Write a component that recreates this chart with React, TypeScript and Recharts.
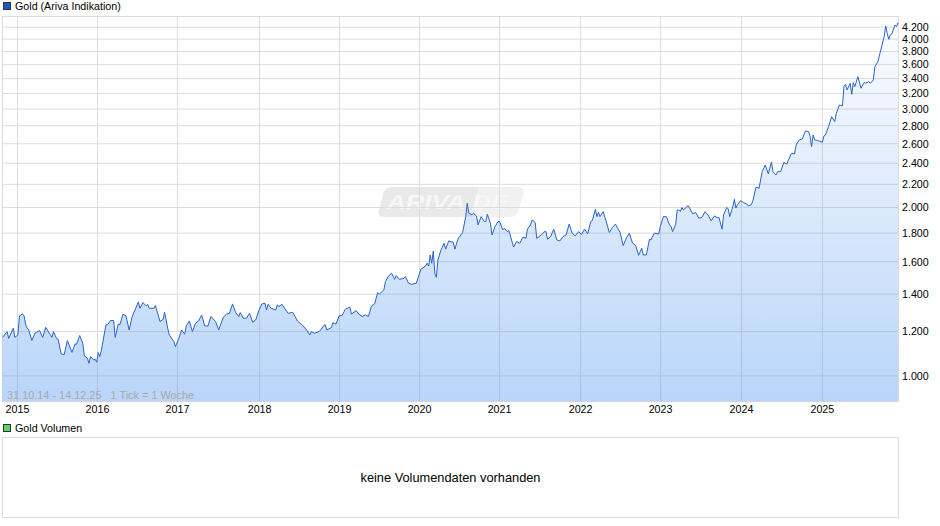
import React from 'react'
import { ComposedChart, Area, XAxis, YAxis, CartesianGrid } from 'recharts'

// week number counted from 31.10.14, closes
const weeks2014to2018 = [0, 3, 4, 7, 8, 10, 11, 13, 14, 15, 16, 17, 19, 21, 24, 26, 28, 31, 32, 33, 35, 36, 38, 40, 42, 45, 47, 48, 50, 52, 53, 55, 56, 57, 59, 60, 61, 62, 63, 64, 67, 68, 70, 72, 73, 75, 76, 78, 80, 82, 84, 88, 89, 91, 93, 94, 95, 98, 99, 100, 102, 104, 105, 107, 108, 111, 112, 114, 116, 118, 119, 121, 123, 125, 127, 129, 131, 133, 135, 138, 140, 143, 145, 147, 149, 151, 153, 154, 156, 158, 160, 162, 164, 166, 168, 170, 171, 172, 174, 177, 178, 179, 181, 183, 185, 188, 191, 194, 197, 199, 200, 202, 205]
const prices2014to2018 = [1172, 1200, 1167, 1217, 1172, 1184, 1280, 1291, 1280, 1234, 1217, 1208, 1157, 1192, 1205, 1172, 1221, 1184, 1172, 1200, 1167, 1163, 1095, 1092, 1157, 1102, 1141, 1139, 1181, 1144, 1086, 1075, 1053, 1083, 1068, 1071, 1058, 1101, 1083, 1110, 1234, 1234, 1256, 1256, 1172, 1239, 1234, 1289, 1280, 1208, 1277, 1356, 1321, 1352, 1334, 1343, 1321, 1321, 1336, 1308, 1251, 1262, 1299, 1217, 1184, 1152, 1128, 1163, 1208, 1187, 1228, 1254, 1200, 1242, 1254, 1285, 1228, 1228, 1277, 1251, 1208, 1273, 1289, 1294, 1345, 1298, 1277, 1298, 1268, 1268, 1294, 1247, 1259, 1308, 1345, 1348, 1312, 1343, 1321, 1312, 1340, 1330, 1343, 1317, 1294, 1299, 1254, 1234, 1208, 1184, 1200, 1192, 1200]

const weeks2019to2022 = [206, 208, 209, 210, 213, 214, 216, 218, 220, 222, 225, 226, 229, 231, 233, 235, 237, 239, 241, 243, 244, 247, 248, 250, 252, 254, 255, 257, 260, 261, 263, 265, 268, 269, 271, 274, 275, 276, 277, 278, 279, 280, 281, 282, 284, 286, 287, 289, 292, 293, 295, 298, 300, 301, 302, 304, 305, 307, 308, 310, 312, 313, 314, 316, 317, 319, 321, 322, 324, 325, 327, 328, 330, 331, 333, 335, 337, 339, 340, 342, 343, 345, 346, 349, 351, 352, 353, 355, 357, 359, 361, 363, 365, 367, 369, 371, 373, 375, 377, 379, 381, 382, 384, 385, 386, 387, 389, 391, 393, 395, 397, 399, 400, 402, 404, 406]
const prices2019to2022 = [1208, 1230, 1235, 1208, 1220, 1245, 1238, 1280, 1283, 1316, 1327, 1290, 1308, 1288, 1277, 1285, 1277, 1334, 1345, 1409, 1400, 1425, 1474, 1509, 1526, 1488, 1511, 1488, 1494, 1505, 1464, 1458, 1464, 1494, 1551, 1572, 1590, 1572, 1645, 1590, 1671, 1526, 1501, 1612, 1680, 1726, 1685, 1743, 1732, 1685, 1757, 1805, 1926, 2035, 1953, 1941, 1953, 1931, 1862, 1926, 1888, 1888, 1945, 1875, 1786, 1849, 1888, 1888, 1824, 1836, 1811, 1818, 1738, 1700, 1738, 1726, 1770, 1762, 1830, 1862, 1900, 1880, 1762, 1786, 1811, 1811, 1755, 1774, 1830, 1750, 1743, 1774, 1786, 1868, 1799, 1780, 1811, 1790, 1830, 1794, 1888, 1896, 1985, 1926, 1960, 1926, 1966, 1888, 1805, 1842, 1868, 1824, 1805, 1710, 1762, 1799]

const weeks2023to2025 = [408, 410, 412, 414, 415, 417, 419, 420, 422, 425, 426, 428, 430, 432, 433, 434, 436, 437, 438, 439, 440, 441, 444, 445, 447, 449, 451, 453, 455, 457, 459, 461, 463, 464, 466, 467, 469, 470, 471, 473, 474, 475, 476, 478, 480, 482, 483, 485, 486, 488, 490, 492, 494, 496, 498, 499, 501, 502, 504, 506, 508, 509, 511, 513, 514, 516, 518, 520, 522, 523, 524, 525, 526, 528, 531, 532, 533, 535, 537, 539, 540, 542, 544, 545, 546, 547, 549, 550, 551, 552, 554, 556, 558, 559, 561, 562, 564, 565, 567, 568, 571, 572, 573, 574, 575, 576, 578, 579, 580]
const prices2023to2025 = [1728, 1712, 1643, 1692, 1645, 1645, 1755, 1750, 1799, 1794, 1849, 1926, 1926, 1862, 1849, 1811, 1867, 1980, 1980, 1967, 2000, 1980, 2016, 1995, 1949, 1959, 1913, 1921, 1966, 1939, 1892, 1932, 1918, 1921, 1829, 1939, 2000, 1990, 1926, 2007, 2069, 1995, 2023, 2057, 2041, 2030, 2013, 2023, 2057, 2174, 2165, 2318, 2382, 2297, 2410, 2318, 2287, 2318, 2318, 2407, 2391, 2432, 2500, 2493, 2588, 2641, 2652, 2741, 2734, 2685, 2570, 2697, 2641, 2634, 2616, 2685, 2696, 2790, 2907, 2848, 2947, 3050, 3038, 3298, 3321, 3245, 3335, 3187, 3344, 3289, 3427, 3267, 3344, 3335, 3358, 3335, 3381, 3572, 3646, 3747, 4040, 4222, 4097, 3997, 4069, 4085, 4239, 4211, 4281]

const yearLabels = ['2015', '2016', '2017', '2018', '2019', '2020', '2021', '2022', '2023', '2024', '2025']
const yearWeeks = [9.7, 61.5, 113.3, 166.5, 218.3, 270.1, 321.9, 374.4, 426.2, 478.6, 531]
const priceTicks = [1000, 1200, 1400, 1600, 1800, 2000, 2200, 2400, 2600, 2800, 3000, 3200, 3400, 3600, 3800, 4000, 4200]

const allWeeks = [...weeks2014to2018, ...weeks2019to2022, ...weeks2023to2025]
const allPrices = [...prices2014to2018, ...prices2019to2022, ...prices2023to2025]
const data = allWeeks.map((week, i) => ({ week, price: allPrices[i] }))

const font = '"Liberation Sans", Arial, sans-serif'
const gridColor = '#dcdcdc'

function LegendRow({ top, color, label }: { top: number; color: string; label: string }) {
  return (
    <div style={{ position: 'absolute', left: 3, top, display: 'flex', alignItems: 'center', fontSize: 10.7, height: 12 }}>
      <span style={{ width: 6, height: 6, background: color, border: '1px solid #333', marginRight: 4 }} />
      {label}
    </div>
  )
}

function formatPrice(value: number) {
  return value.toLocaleString('de-DE')
}

function formatYear(value: number) {
  return yearLabels[yearWeeks.indexOf(value)]
}

export default function App() {
  return (
    <div style={{ position: 'absolute', left: 0, top: 0, width: 940, height: 526, background: '#fff', fontFamily: font, color: '#000', overflow: 'hidden' }}>
      <LegendRow top={0} color="#1c5bbd" label="Gold (Ariva Indikation)" />

      {/* watermark, sits under the chart */}
      <div style={{ position: 'absolute', left: 381, top: 187, width: 94, height: 30, background: '#e9e9e9', transform: 'skewX(-15deg)', borderRadius: '6px 0 0 6px' }} />
      <div style={{ position: 'absolute', left: 475, top: 187, width: 46, height: 30, background: '#f1f1f1', transform: 'skewX(-15deg)', borderRadius: '0 6px 6px 0' }} />
      <div style={{ position: 'absolute', left: 387, top: 187, lineHeight: '30px', fontSize: 21, fontStyle: 'italic', fontWeight: 700, color: '#f7f7f7', whiteSpace: 'nowrap', transform: 'scaleX(1.23)', transformOrigin: 'left center' }}>ARIVA.DE</div>

      <div style={{ position: 'absolute', left: 2, top: 16, width: 895, height: 384, border: `1px solid ${gridColor}` }} />

      <div style={{ position: 'absolute', left: 0, top: 0 }}>
        <ComposedChart width={940} height={420} data={data} margin={{ top: 16.5, right: 0, bottom: 0, left: 2.5 }}>
          <defs>
            <linearGradient id="goldFill" x1="0" y1="0" x2="0" y2="1">
              <stop offset="0%" stopColor="#5096f0" stopOpacity={0.02} />
              <stop offset="100%" stopColor="#5096f0" stopOpacity={0.4} />
            </linearGradient>
          </defs>
          <CartesianGrid stroke={gridColor} strokeWidth={1} />
          <XAxis
            dataKey="week"
            type="number"
            domain={[0, 580.3]}
            ticks={yearWeeks}
            tickFormatter={formatYear}
            interval={0}
            height={18.5}
            axisLine={false}
            tickLine={false}
            tickSize={0}
            tick={{ fontSize: 10.7, fill: '#000', fontFamily: font }}
            tickMargin={4}
          />
          <YAxis
            orientation="right"
            scale="log"
            domain={[900, 4390]}
            ticks={priceTicks}
            tickFormatter={formatPrice}
            interval={0}
            width={41.5}
            axisLine={false}
            tickLine={false}
            tickSize={0}
            tick={{ fontSize: 10.7, fill: '#000', fontFamily: font }}
            tickMargin={3.5}
            allowDataOverflow
          />
          <Area
            type="linear"
            dataKey="price"
            stroke="#2a63c6"
            strokeWidth={1}
            fill="url(#goldFill)"
            fillOpacity={1}
            dot={false}
            activeDot={false}
            isAnimationActive={false}
          />
        </ComposedChart>
      </div>

      <div style={{ position: 'absolute', left: 7, top: 389, fontSize: 10.9, color: '#a9a9a9', whiteSpace: 'pre' }}>31.10.14 - 14.12.25   1 Tick = 1 Woche</div>

      <LegendRow top={422} color="#5fd068" label="Gold Volumen" />
      <div style={{ position: 'absolute', left: 2, top: 437, width: 895, height: 79, border: `1px solid ${gridColor}`, display: 'flex', alignItems: 'center', justifyContent: 'center', fontSize: 12.8 }}>
        keine Volumendaten vorhanden
      </div>
    </div>
  )
}
